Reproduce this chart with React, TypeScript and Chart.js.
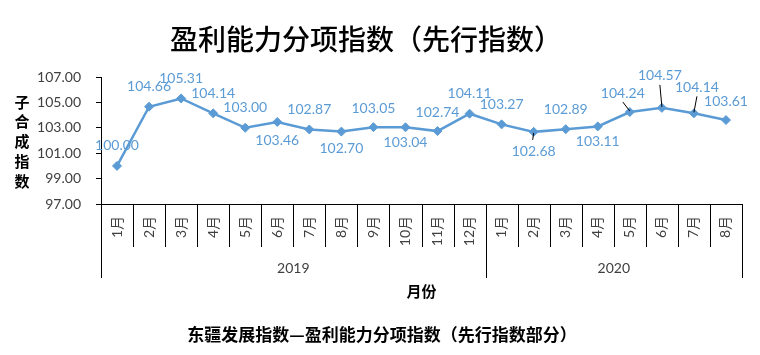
import React, { useEffect, useRef } from 'react';
import { Chart, registerables } from 'chart.js';

Chart.register(...registerables);

const months2019 = ['1月', '2月', '3月', '4月', '5月', '6月', '7月', '8月', '9月', '10月', '11月', '12月'];
const months2020 = ['1月', '2月', '3月', '4月', '5月', '6月', '7月', '8月'];
const years = ['2019', '2020'];
const values2019 = [100.0, 104.66, 105.31, 104.14, 103.0, 103.46, 102.87, 102.7, 103.05, 103.04, 102.74, 104.11];
const values2020 = [103.27, 102.68, 102.89, 103.11, 104.24, 104.57, 104.14, 103.61];
const yTicks = [97, 99, 101, 103, 105, 107];
const titleText = '盈利能力分项指数（先行指数）';
const captionText = '东疆发展指数—盈利能力分项指数（先行指数部分）';
const yTitleText = '子合成指数';
const xTitleText = '月份';

const BLUE = '#5B9BD5';

export default function App() {
  const ref = useRef<HTMLCanvasElement | null>(null);

  useEffect(() => {
    const canvas = ref.current;
    if (!canvas) return;
    const labels = [...months2019, ...months2020];
    const values = [...values2019, ...values2020];
    const groups = [months2019.length, months2020.length];

    // label placement relative to each point: [dx, dy, leader]
    const labelPlace: [number, number, boolean][] = [
      [0, -20, false], [0, -20, false], [0, -20, false], [0, -20, false], [0, -20, false],
      [0, 19, false], [0, -20, false], [0, 17, false], [0, -19, false], [0, 15, false],
      [0, -19, false], [0, -20, false], [0, -20, false], [0, 20, true], [0, -20, false],
      [0, 15, false], [-7, -19, true], [-2, -32, true], [3, -26, true], [0, -19, false],
    ];

    const deco = {
      id: 'deco',
      beforeDraw(chart: any) {
        const c = chart.ctx;
        c.save();
        c.fillStyle = '#ffffff';
        c.fillRect(0, 0, chart.width, chart.height);
        c.restore();
      },
      afterDraw(chart: any) {
        const c = chart.ctx;
        const area = chart.chartArea;
        const n = labels.length;
        const w = (area.right - area.left) / n;
        c.save();
        c.textAlign = 'center';
        c.textBaseline = 'middle';

        // title
        c.fillStyle = '#000';
        c.font = '500 28px "Noto Sans CJK SC"';
        c.fillText(titleText, 366, 39);

        // caption
        c.font = 'bold 17px "Noto Sans CJK SC"';
        c.fillText(captionText, 382, 335);

        // y title (stacked vertical)
        c.font = 'bold 15px "Noto Sans CJK SC"';
        for (let k = 0; k < yTitleText.length; k++) {
          c.fillText(yTitleText[k], 22, 102 + k * 19.7);
        }

        // category separators
        c.strokeStyle = '#000';
        c.lineWidth = 1;
        const groupEdges = new Set<number>([0]);
        let acc = 0;
        groups.forEach((g) => { acc += g; groupEdges.add(acc); });
        for (let i = 0; i <= n; i++) {
          const x = Math.round(area.left + i * w) + 0.5;
          const yEnd = groupEdges.has(i) ? area.bottom + 74 : area.bottom + 43;
          c.beginPath();
          c.moveTo(x, area.bottom);
          c.lineTo(x, yEnd);
          c.stroke();
        }

        // month labels (rotated)
        c.fillStyle = '#404040';
        c.font = '14px Lato, "Noto Sans CJK SC"';
        for (let i = 0; i < n; i++) {
          const xc = area.left + (i + 0.5) * w;
          c.save();
          c.translate(xc, area.bottom + 12);
          c.rotate(-Math.PI / 2);
          c.textAlign = 'right';
          c.textBaseline = 'middle';
          c.fillText(labels[i], 0, 0);
          c.restore();
        }

        // year labels
        c.font = '14px Lato';
        c.fillStyle = '#404040';
        let start = 0;
        groups.forEach((g, gi) => {
          const xc = area.left + (start + g / 2) * w;
          c.fillText(years[gi], xc, area.bottom + 64);
          start += g;
        });

        // x title
        c.fillStyle = '#000';
        c.font = 'bold 15px "Noto Sans CJK SC"';
        c.fillText(xTitleText, (area.left + area.right) / 2, area.bottom + 87);

        // data labels
        const meta = chart.getDatasetMeta(0);
        c.font = '14px Lato';
        meta.data.forEach((pt: any, i: number) => {
          const [dx, dy, leader] = labelPlace[i];
          const lx = pt.x + dx;
          const ly = pt.y + dy;
          if (leader) {
            c.strokeStyle = '#000';
            c.lineWidth = 1;
            c.beginPath();
            if (dy < 0) {
              c.moveTo(lx, ly + 9);
              c.lineTo(pt.x, pt.y - 1);
            } else {
              c.moveTo(pt.x, pt.y + 1);
              c.lineTo(pt.x - 1, pt.y + 8);
            }
            c.stroke();
          }
          c.fillStyle = BLUE;
          c.fillText(values[i].toFixed(2), lx, ly);
        });

        c.restore();
      },
    };

    const chart = new Chart(canvas, {
      type: 'line',
      data: {
        labels,
        datasets: [
          {
            data: values,
            borderColor: BLUE,
            backgroundColor: BLUE,
            borderWidth: 2.5,
            tension: 0,
            pointStyle: 'rectRot',
            pointRadius: 4.5,
            pointBorderWidth: 1,
            pointBackgroundColor: BLUE,
            pointBorderColor: BLUE,
          },
        ],
      },
      options: {
        responsive: false,
        animation: false,
        devicePixelRatio: 1,
        layout: { padding: { top: 77, right: 18, left: 0, bottom: 0 } },
        plugins: {
          legend: { display: false },
          tooltip: { enabled: false },
          title: { display: false },
        },
        scales: {
          x: {
            type: 'category',
            offset: true,
            grid: { display: false },
            ticks: { display: false },
            border: { display: true, color: '#000', width: 1 },
            afterFit: (s: any) => { s.height = 151; },
          },
          y: {
            min: 97,
            max: 107,
            afterBuildTicks: (s: any) => { s.ticks = yTicks.map((v) => ({ value: v })); },
            grid: { display: true, drawOnChartArea: false, drawTicks: true, tickLength: 5, color: '#000' },
            border: { display: true, color: '#000', width: 1 },
            ticks: {
              padding: 15,
              color: '#404040',
              font: { family: 'Lato', size: 14 },
              callback: (v: any) => Number(v).toFixed(2),
            },
            afterFit: (s: any) => { s.width = 101; },
          },
        },
      },
      plugins: [deco],
    });

    return () => chart.destroy();
  }, []);

  return (
    <div style={{ position: 'absolute', left: 0, top: 0, width: 760, height: 355 }}>
      <canvas ref={ref} width={760} height={355} />
    </div>
  );
}
